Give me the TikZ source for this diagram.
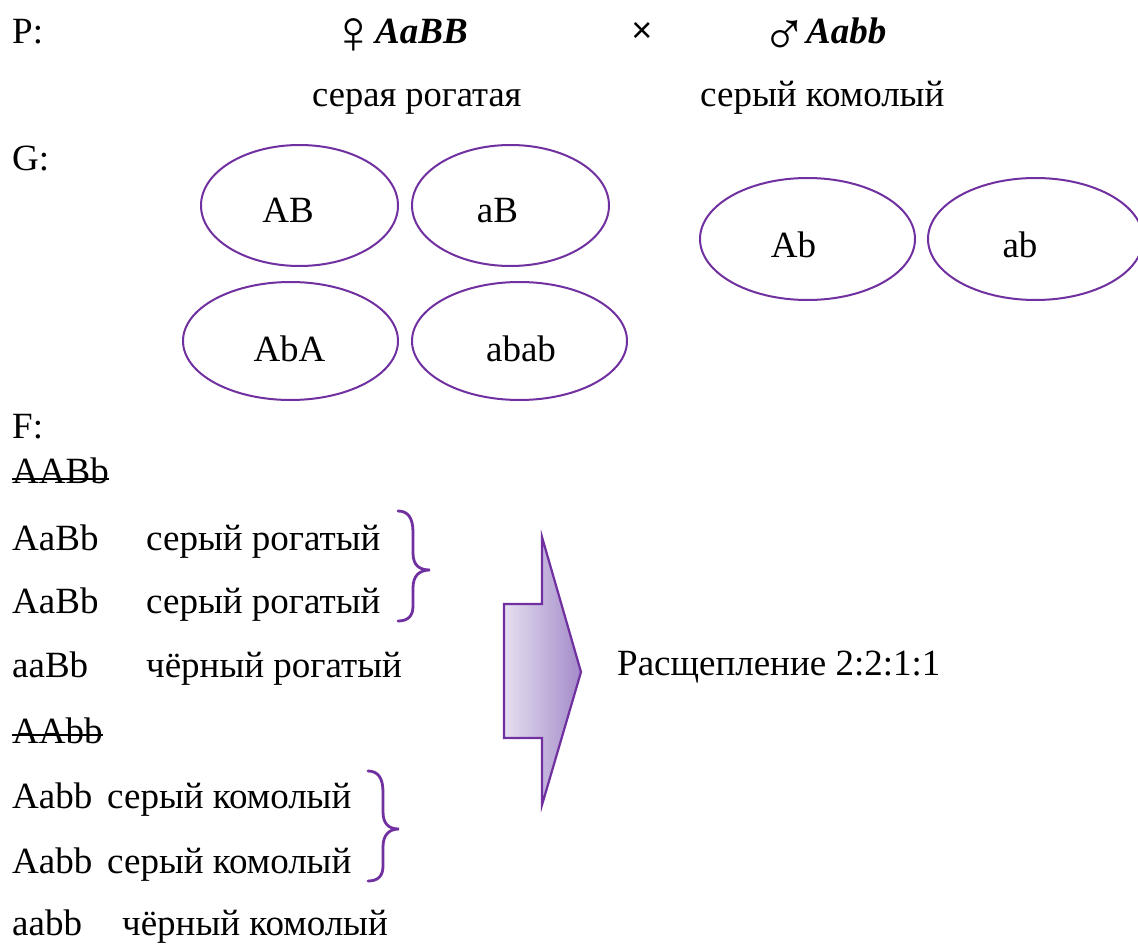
\documentclass[tikz,border=0pt]{standalone}
\usepackage{fontspec}
\setmainfont{Liberation Serif}
\newfontfamily\symfont{Liberation Serif}
\newfontfamily\crossfont{Liberation Sans}
\definecolor{purp}{HTML}{7030A0}
\definecolor{arrL}{HTML}{E6DFF1}
\definecolor{arrR}{HTML}{A38AC8}
\tikzset{
  txt/.style={inner sep=0pt, anchor=base west, font=\fontsize{37}{40}\selectfont},
  ctxt/.style={inner sep=0pt, anchor=base, font=\fontsize{37}{40}\selectfont},
  gam/.style={ellipse, draw=purp, line width=2pt, inner sep=0pt},
  brace/.style={draw=purp, line width=2.8pt, line cap=round},
  strike/.style={draw=black, line width=1.6pt},
  sexsym/.style={inner sep=0pt, anchor=base west, font=\symfont\fontsize{62}{64}\selectfont},
}
\usetikzlibrary{shapes.geometric}
\begin{document}
\begin{tikzpicture}[x=1pt,y=-1pt]
\clip (0,0) rectangle (1138,944);
\fill[white] (0,0) rectangle (1138,944);

% P line
\node[txt] (P) at (12,44) {P:};
\node[sexsym] (fem) at (330,54) {♀};
\node[txt] (fgen) at (375,44) {\textbf{\textit{AaBB}}};
\node[inner sep=0pt, font=\crossfont\fontsize{36}{40}\selectfont] (cross) at (642,32) {×};
\node[sexsym] (mal) at (761,56) {♂};
\node[txt] (mgen) at (806,44) {\textbf{\textit{Aabb}}};
\node[txt, font=\fontsize{36.5}{40}\selectfont] (fphen) at (312,107) {серая рогатая};
\node[txt, font=\fontsize{37}{40}\selectfont] (mphen) at (700,107) {серый комолый};

% G line
\node[txt] (G) at (12,171) {G:};
\node[gam, minimum width=197pt, minimum height=121pt] (e1) at (299.5,205.5) {};
\node[gam, minimum width=197pt, minimum height=121pt] (e2) at (510.5,205.5) {};
\node[gam, minimum width=215pt, minimum height=118pt] (e3) at (290.5,341) {};
\node[gam, minimum width=215pt, minimum height=118pt] (e4) at (519.5,341) {};
\node[gam, minimum width=215pt, minimum height=122pt] (e5) at (807.5,239) {};
\node[gam, minimum width=215pt, minimum height=122pt] (e6) at (1035.5,239) {};
\node[ctxt] (t1) at (288,223) {AB};
\node[ctxt] (t2) at (497.5,223) {aB};
\node[ctxt] (t3) at (289.5,361) {AbA};
\node[ctxt] (t4) at (521,361) {abab};
\node[ctxt] (t5) at (793.5,258) {Ab};
\node[ctxt] (t6) at (1020,258) {ab};

% F
\node[txt] (F) at (12,438) {F:};
\node[txt] (g1) at (12,483) {AABb};
\node[txt] (g2) at (12,550) {AaBb};
\node[txt] (p2) at (146,550) {серый рогатый};
\node[txt] (g3) at (12,613) {AaBb};
\node[txt] (p3) at (146,613) {серый рогатый};
\node[txt] (g4) at (12,677) {aaBb};
\node[txt] (p4) at (146,677) {чёрный рогатый};
\node[txt] (g5) at (12,743) {AAbb};
\node[txt] (g6) at (12,808) {Aabb};
\node[txt] (p6) at (107,808) {серый комолый};
\node[txt] (g7) at (12,873) {Aabb};
\node[txt] (p7) at (107,873) {серый комолый};
\node[txt] (g8) at (12,935) {aabb};
\node[txt] (p8) at (122,935) {чёрный комолый};

% strike-throughs
\draw[strike] ([yshift=4pt]g1.base west) -- ([yshift=4pt]g1.base east);
\draw[strike] ([yshift=8pt]g5.base west) -- ([yshift=8pt]g5.base east);

% braces
\draw[brace] (398,511) .. controls (408,511) and (413,518) .. (413,532)
  -- (413,553) .. controls (413,565) and (419,570) .. (430,570)
  .. controls (419,570) and (413,576) .. (413,588)
  -- (413,606) .. controls (413,616) and (408,621) .. (398,621);
\draw[brace] (368,771) .. controls (378,771) and (383,778) .. (383,792)
  -- (383,812) .. controls (383,824) and (389,829) .. (399,829)
  .. controls (389,829) and (383,835) .. (383,847)
  -- (383,866) .. controls (383,876) and (378,881) .. (368,881);

% big arrow
\draw[draw=purp, line width=2.2pt, line join=miter, left color=arrL, right color=arrR]
  (504,604) -- (542,604) -- (542,537) -- (581,672) -- (542,805) -- (542,738) -- (504,738) -- cycle;

\node[txt] (split) at (617,675) {Расщепление 2:2:1:1};
\end{tikzpicture}
\end{document}
